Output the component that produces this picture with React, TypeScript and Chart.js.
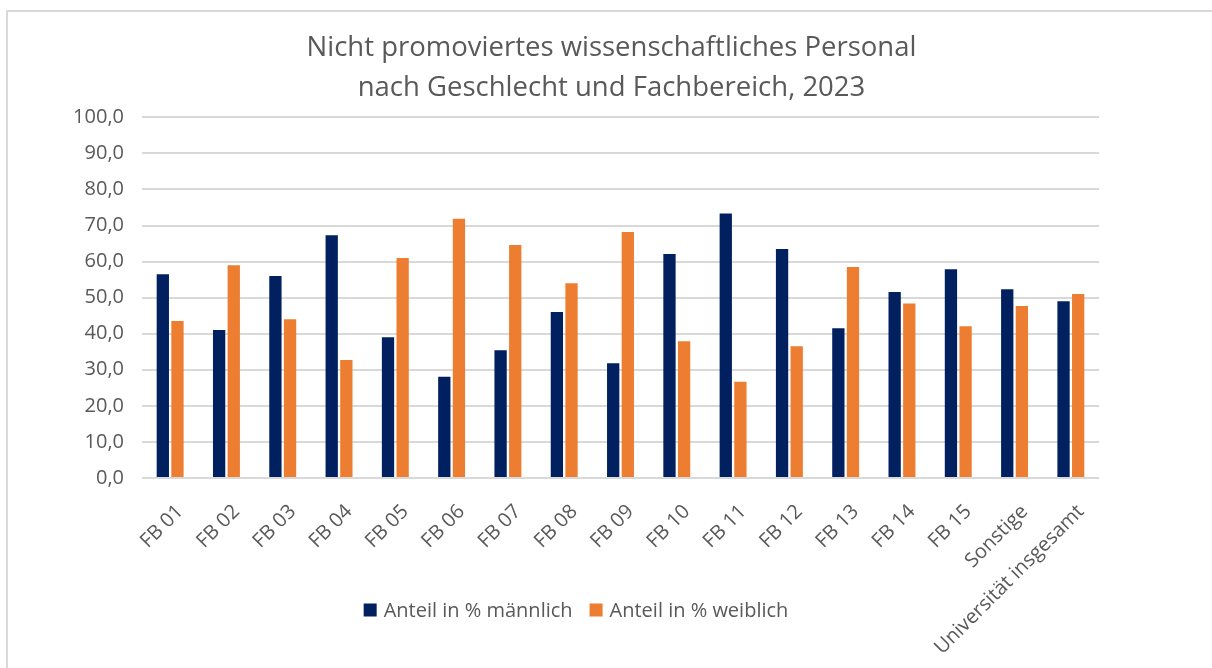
import React, { useEffect, useRef } from "react";
import { Chart, registerables } from "chart.js";

Chart.register(...registerables);

const categories = [
  "FB 01", "FB 02", "FB 03", "FB 04", "FB 05", "FB 06", "FB 07", "FB 08", "FB 09",
  "FB 10", "FB 11", "FB 12", "FB 13", "FB 14", "FB 15", "Sonstige", "Universität insgesamt",
];
const maleShare = [56.5, 41.0, 56.0, 67.3, 39.0, 28.1, 35.4, 46.0, 31.8, 62.1, 73.3, 63.5, 41.5, 51.6, 57.9, 52.3, 49.0];
const femaleShare = [43.5, 59.0, 44.0, 32.7, 61.0, 71.9, 64.6, 54.0, 68.2, 37.9, 26.7, 36.5, 58.5, 48.4, 42.1, 47.7, 51.0];
const titleLines = ["Nicht promoviertes wissenschaftliches Personal", "nach Geschlecht und Fachbereich, 2023"];
const seriesLabels = ["Anteil in % männlich", "Anteil in % weiblich"];
const yTicks = { min: 0, max: 100, step: 10 };

const FONT = "'Open Sans'";
const TEXT = "#595959";
const GRID = "#d9d9d9";
const NAVY = "#002060";
const ORANGE = "#ED7D31";

const framePlugin = {
  id: "frame",
  beforeDraw(chart: any) {
    const ctx = chart.ctx;
    ctx.save();
    ctx.fillStyle = "#ffffff";
    ctx.fillRect(0, 0, chart.width, chart.height);
    ctx.strokeStyle = GRID;
    ctx.lineWidth = 2;
    ctx.strokeRect(7, 11, chart.width + 50, chart.height + 50);
    ctx.restore();
  },
};

const legendPlugin = {
  id: "customLegend",
  afterDraw(chart: any) {
    const ctx = chart.ctx;
    const cx = 576;
    const cy = 610;
    const box = 13;
    const gapBoxText = 7;
    const gapItems = 17;
    ctx.save();
    ctx.font = `20px ${FONT}`;
    ctx.textBaseline = "middle";
    ctx.textAlign = "left";
    const items = chart.data.datasets.map((d: any) => ({
      label: d.label,
      color: d.backgroundColor,
      w: ctx.measureText(d.label).width,
    }));
    const total =
      items.reduce((s: number, it: any) => s + box + gapBoxText + it.w, 0) +
      gapItems * (items.length - 1);
    let x = cx - total / 2;
    for (const it of items) {
      ctx.fillStyle = it.color;
      ctx.fillRect(x, cy - box / 2, box, box);
      x += box + gapBoxText;
      ctx.fillStyle = TEXT;
      ctx.fillText(it.label, x, cy + 1);
      x += it.w + gapItems;
    }
    ctx.restore();
  },
};

export default function App() {
  const ref = useRef<HTMLCanvasElement | null>(null);

  useEffect(() => {
    document.body.style.margin = "0";
    document.body.style.overflow = "hidden";
    if (!ref.current) return;
    const chart = new Chart(ref.current, {
      type: "bar",
      data: {
        labels: categories,
        datasets: [
          {
            label: seriesLabels[0],
            data: maleShare,
            backgroundColor: NAVY,
            borderWidth: 0,
            categoryPercentage: 0.52,
            barPercentage: 0.84,
          },
          {
            label: seriesLabels[1],
            data: femaleShare,
            backgroundColor: ORANGE,
            borderWidth: 0,
            categoryPercentage: 0.52,
            barPercentage: 0.84,
          },
        ],
      },
      options: {
        responsive: false,
        animation: false,
        layout: { padding: { left: 11, right: 0, top: 0, bottom: 0 } },
        plugins: {
          legend: { display: false },
          tooltip: { enabled: false },
          title: {
            display: true,
            text: titleLines,
            color: TEXT,
            font: { family: FONT, size: 27.5, weight: "normal", lineHeight: 1.46 },
            padding: { top: 28, bottom: 9 },
          },
        },
        scales: {
          y: {
            min: yTicks.min,
            max: yTicks.max,
            ticks: {
              stepSize: yTicks.step,
              color: TEXT,
              font: { family: FONT, size: 20 },
              padding: 18,
              callback: (v: any) => Number(v).toFixed(1).replace(".", ","),
            },
            grid: { color: GRID, lineWidth: 2, drawTicks: false },
            border: { display: false },
            afterFit: (s: any) => {
              s.width = 131;
            },
          },
          y2: {
            position: "right",
            display: true,
            ticks: { display: false },
            grid: { display: false, drawTicks: false },
            border: { display: false },
            afterFit: (s: any) => {
              s.width = 113;
            },
          },
          x: {
            grid: { display: false },
            border: { display: false },
            ticks: {
              color: TEXT,
              font: { family: FONT, size: 20 },
              maxRotation: 45,
              minRotation: 45,
              padding: 14,
              labelOffset: 10,
              autoSkip: false,
            },
            afterFit: (s: any) => {
              s.height = 190;
            },
          },
        },
      },
      plugins: [framePlugin, legendPlugin],
    });
    return () => chart.destroy();
  }, []);

  return <canvas ref={ref} width={1212} height={668} style={{ display: "block" }} />;
}
